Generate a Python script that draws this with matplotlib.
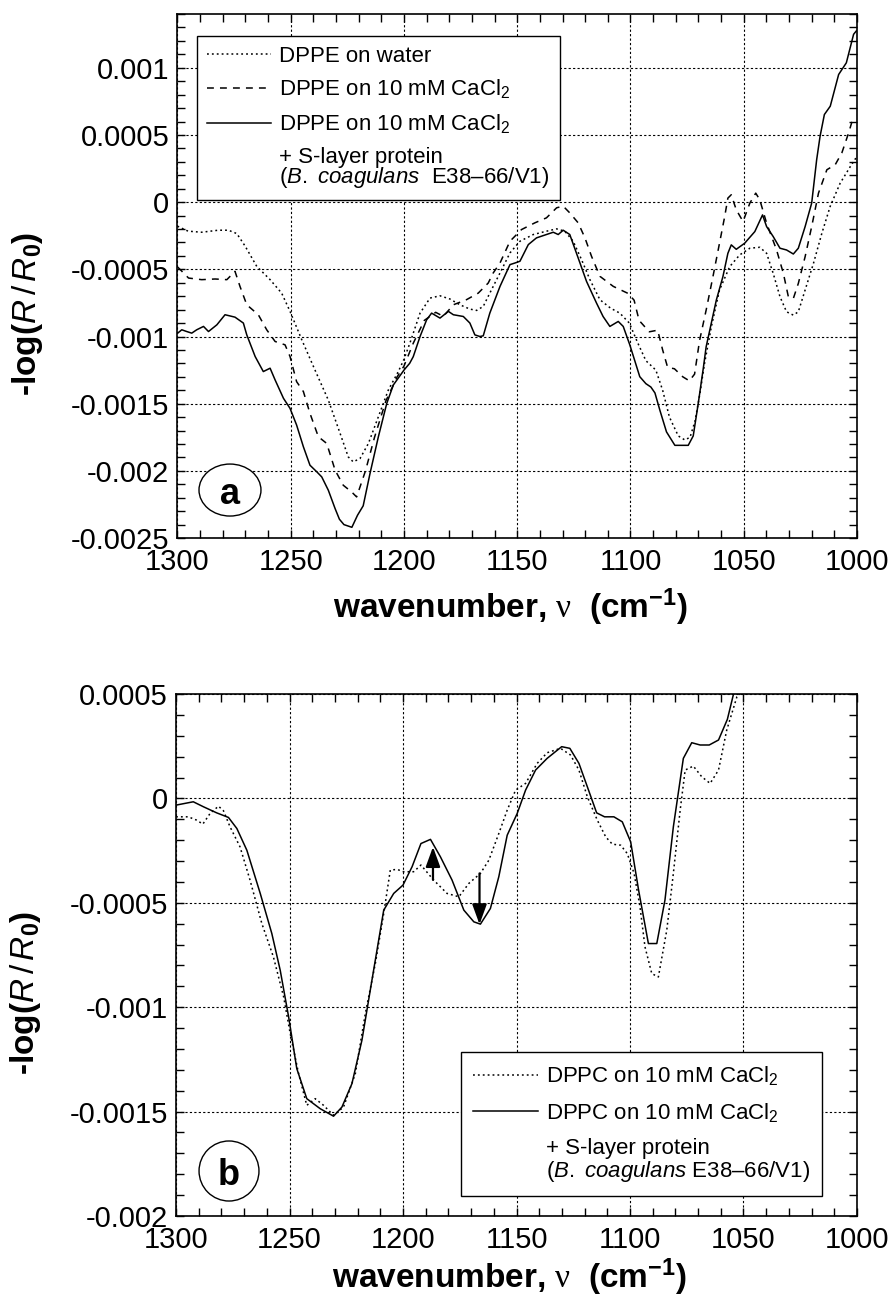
import matplotlib
matplotlib.use("Agg")
import matplotlib.pyplot as plt
from matplotlib.lines import Line2D
from matplotlib.patches import Ellipse
from matplotlib.ticker import MultipleLocator, FuncFormatter

plt.rcParams['font.family'] = ['Liberation Sans', 'DejaVu Sans']
plt.rcParams['mathtext.fontset'] = 'custom'
plt.rcParams['mathtext.rm'] = 'Liberation Sans'
plt.rcParams['mathtext.it'] = 'Liberation Sans:italic'
plt.rcParams['mathtext.bf'] = 'Liberation Sans:bold'
plt.rcParams['mathtext.sf'] = 'Liberation Serif'
plt.rcParams['axes.unicode_minus'] = False

# ---- panel a: DPPE ----
wn_water = [1300, 1295.3, 1289.3, 1282, 1277.5, 1273.8, 1270.1, 1265, 1259.1, 1254, 1250.3,
            1245.1, 1239.3, 1233.4, 1228.2, 1224.6, 1222.4, 1219.4, 1215.7, 1211.3, 1206.9,
            1202.5, 1200, 1197.4, 1192.9, 1188.5, 1184.1, 1179.7, 1175.3, 1170.9, 1167.9,
            1165, 1162.1, 1157.6, 1153.2, 1148.8, 1142.9, 1137, 1132.6, 1129, 1125.3, 1121.6,
            1117.9, 1113.5, 1108.8, 1104.7, 1100.5, 1097, 1093.2, 1088.8, 1085.8, 1082.8,
            1078.9, 1076, 1073.7, 1071.5, 1069.3, 1067.3, 1064.3, 1060.7, 1056.2, 1051.8,
            1047.3, 1042.9, 1039.9, 1037, 1034, 1031.1, 1028.1, 1025.9, 1022.9, 1019.2,
            1015.5, 1011.8, 1007.4, 1002.9, 1000]
abs_water = [-0.000179, -0.000216, -0.000224, -0.000209, -0.000209, -0.000234, -0.000328,
             -0.000478, -0.000577, -0.000677, -0.000813, -0.001025, -0.001249, -0.001473,
             -0.001721, -0.001896, -0.001933, -0.001908, -0.001796, -0.001597, -0.001398,
             -0.001261, -0.00117, -0.00105, -0.000826, -0.000714, -0.000697, -0.000721,
             -0.000764, -0.000796, -0.000806, -0.000776, -0.000677, -0.000527, -0.000378,
             -0.000291, -0.000241, -0.000216, -0.000199, -0.000216, -0.000291, -0.000428,
             -0.000577, -0.000726, -0.000789, -0.000826, -0.0009, -0.00104, -0.00118,
             -0.00125, -0.0014, -0.0016, -0.00174, -0.00177, -0.00175, -0.00163, -0.00142,
             -0.0012, -0.000928, -0.000654, -0.00048, -0.000393, -0.000343, -0.000336,
             -0.000381, -0.00053, -0.000704, -0.000816, -0.000841, -0.000816, -0.000654,
             -0.000455, -0.000231, -0.00003, 0.000142, 0.000266, 0.000341]

wn_ca = [1299.9, 1295.1, 1289.3, 1283.4, 1278.2, 1274.6, 1272.4, 1269.4, 1264.3, 1260.6,
         1256.9, 1252.5, 1250.3, 1247.4, 1244.4, 1241.5, 1237.8, 1234.1, 1230.4, 1226.8,
         1223.1, 1220.9, 1217, 1213, 1208, 1203, 1200, 1195.9, 1191, 1186, 1182.6, 1178.2,
         1172.4, 1167.2, 1162.8, 1160.6, 1157.6, 1153.2, 1148.1, 1142.2, 1137.1, 1132.6,
         1129.7, 1126.8, 1123.1, 1120.1, 1117.2, 1113.5, 1107.6, 1101, 1098.4, 1096.2,
         1091.7, 1088, 1085.8, 1083.6, 1080.6, 1076.9, 1074, 1071.7, 1069.5, 1066.6,
         1063.6, 1060.7, 1058.4, 1057, 1055.5, 1053.3, 1050.3, 1047.3, 1044.7, 1042.9,
         1039.9, 1035.5, 1032.5, 1030.3, 1028.1, 1025.9, 1022.9, 1020, 1017, 1013.3,
         1009.6, 1006.7, 1003.7, 1001.5]
abs_ca = [-0.000483, -0.000565, -0.000577, -0.000572, -0.000577, -0.000515, -0.000627,
          -0.000764, -0.000838, -0.00095, -0.001037, -0.001062, -0.001149, -0.001336,
          -0.00141, -0.001572, -0.001746, -0.001796, -0.001995, -0.002107, -0.002157,
          -0.002194, -0.0020, -0.00175, -0.00148, -0.0013, -0.00122, -0.00105, -0.00088,
          -0.00082, -0.00085, -0.000764, -0.000726, -0.000677, -0.000602, -0.000527,
          -0.000453, -0.000291, -0.000204, -0.000154, -0.000117, -0.000042, -0.00003,
          -0.00008, -0.000154, -0.000266, -0.000403, -0.000552, -0.000627, -0.00068,
          -0.00073, -0.00088, -0.000965, -0.000953, -0.0011, -0.00123, -0.00124, -0.0013,
          -0.00133, -0.00128, -0.00103, -0.000804, -0.000555, -0.000306, -0.000107,
          0.00003, 0.000055, -0.000057, -0.000144, -0.000007, 0.000067, 0.000017,
          -0.000157, -0.000356, -0.00053, -0.000704, -0.000717, -0.000605, -0.000406,
          -0.000182, 0.000067, 0.000241, 0.000279, 0.000366, 0.000515, 0.000639]

wn_prot = [1299.9, 1298.1, 1295.9, 1293.7, 1291.5, 1288.5, 1286.3, 1282.6, 1279, 1274.6,
           1270.9, 1269.4, 1265.7, 1262.1, 1259.1, 1256.9, 1253.2, 1250.3, 1247.4, 1244.4,
           1241.5, 1238.5, 1236.3, 1233.4, 1230.4, 1228.5, 1226.5, 1223, 1220.5, 1218,
           1215, 1211.3, 1207.6, 1204.7, 1200, 1197.5, 1195.9, 1192.9, 1190, 1187.8, 1184.1,
           1180.4, 1178.2, 1173.8, 1170.9, 1168.7, 1166.5, 1165, 1162.1, 1157.6, 1153.2,
           1151, 1148.8, 1145.1, 1141.5, 1137.1, 1134.1, 1131.9, 1129.7, 1126.8, 1123.1,
           1119.4, 1115, 1112.1, 1109.1, 1105.4, 1103.2, 1100.3, 1095.9, 1093.2, 1091,
           1089.2, 1087, 1084.1, 1080.4, 1074.5, 1072.3, 1070.1, 1067.8, 1066.6, 1062.1,
           1059.2, 1057, 1055.5, 1053.3, 1049.6, 1045.1, 1041.7, 1039.9, 1037, 1034,
           1031.1, 1028.1, 1025.9, 1022.9, 1020, 1017.8, 1016.3, 1014.4, 1011.8, 1008.1,
           1004.7, 1001.5, 1000.3]
abs_prot = [-0.000975, -0.00095, -0.000963, -0.000975, -0.00095, -0.000925, -0.000963,
            -0.000913, -0.000838, -0.000856, -0.0009, -0.000988, -0.001149, -0.001261,
            -0.001236, -0.001323, -0.00146, -0.001535, -0.001659, -0.001821, -0.001958,
            -0.002007, -0.002045, -0.002144, -0.002281, -0.00236, -0.0024, -0.00242,
            -0.00233, -0.00226, -0.00202, -0.001746, -0.001498, -0.001361, -0.00125,
            -0.0012, -0.00115, -0.001, -0.000876, -0.000826, -0.000863, -0.000813,
            -0.000838, -0.000851, -0.0009, -0.000988, -0.001, -0.000995, -0.000826,
            -0.000627, -0.000465, -0.000453, -0.00044, -0.000316, -0.000266, -0.000241,
            -0.000224, -0.000241, -0.000209, -0.000241, -0.000415, -0.00059, -0.000751,
            -0.000851, -0.000925, -0.000888, -0.000925, -0.001062, -0.001299, -0.001351,
            -0.001376, -0.00142, -0.00155, -0.00171, -0.00181, -0.00181, -0.00174,
            -0.0015, -0.00123, -0.001077, -0.000729, -0.000555, -0.000381, -0.000318,
            -0.000351, -0.000306, -0.000219, -0.000095, -0.000182, -0.000256, -0.000343,
            -0.000356, -0.000386, -0.000343, -0.000182, -0.000007, 0.000316, 0.00049,
            0.000652, 0.000714, 0.00095, 0.001037, 0.001249, 0.001274]

# ---- panel b: DPPC ----
wn_dppc = [1300, 1294.6, 1290.9, 1288.2, 1285, 1281.3, 1279.1, 1276.2, 1271.8, 1267.4,
           1262.2, 1257.1, 1252.6, 1249.7, 1246, 1242.4, 1238.7, 1235, 1230.6, 1226.2,
           1221, 1216.6, 1212.2, 1208.5, 1205.6, 1202.6, 1199.7, 1195.3, 1192.1, 1186.5,
           1180.6, 1175.4, 1171, 1165.9, 1162.2, 1157.8, 1154.1, 1150.4, 1146, 1140.9,
           1136.5, 1130.6, 1126.2, 1122.5, 1118.8, 1114.4, 1110.7, 1107.8, 1104.1, 1101.2,
           1098.2, 1095.6, 1093.4, 1090.4, 1087.5, 1083.8, 1080.9, 1077.9, 1075.7, 1072.1,
           1068.4, 1064.7, 1061, 1057.4, 1052.9, 1051.5]
abs_dppc = [-0.000088, -0.000088, -0.000104, -0.000123, -0.000072, -0.000037, -0.000059,
            -0.000136, -0.000232, -0.000391, -0.000599, -0.000759, -0.00095, -0.001126,
            -0.001318, -0.00147, -0.001438, -0.00147, -0.001518, -0.001478, -0.001318,
            -0.00103, -0.000791, -0.000551, -0.000343, -0.00034, -0.000351, -0.000351,
            -0.000319, -0.000391, -0.000455, -0.000471, -0.000407, -0.000359, -0.000296,
            -0.000168, -0.000056, 0.00004, 0.000072, 0.000168, 0.000219, 0.00024, 0.000208,
            0.000136, 0.000008, -0.000104, -0.000184, -0.000219, -0.000224, -0.000264,
            -0.000359, -0.000519, -0.000711, -0.000839, -0.000855, -0.000631, -0.000359,
            -0.000056, 0.000136, 0.000155, 0.000104, 0.000072, 0.000136, 0.000327,
            0.000487, 0.0005]

wn_dppc_prot = [1300, 1292.4, 1287.9, 1282.1, 1276.9, 1273.2, 1268.8, 1262.9, 1257.8,
                1254.1, 1250.4, 1246.8, 1242.4, 1236.5, 1230.6, 1226.9, 1222.5, 1218.1,
                1213.7, 1208.5, 1204.1, 1200, 1196, 1192.1, 1187.9, 1183.5, 1178.4, 1173.2,
                1168.8, 1165.9, 1161.5, 1157.8, 1154.1, 1149.7, 1146, 1141.6, 1136.5,
                1130.1, 1126.5, 1122.5, 1118.8, 1114.7, 1111.2, 1107.1, 1103.4, 1099.7,
                1096.2, 1091.9, 1088.2, 1084.6, 1080.9, 1076.5, 1072.8, 1069.1, 1065.1,
                1061, 1057.1, 1054.4]
abs_dppc_prot = [-0.000032, -0.000016, -0.00004, -0.000069, -0.000091, -0.000144, -0.000248,
                 -0.000455, -0.000647, -0.000823, -0.001046, -0.001294, -0.001438,
                 -0.001486, -0.001522, -0.001478, -0.001366, -0.001158, -0.000871,
                 -0.000535, -0.000455, -0.000415, -0.000327, -0.000216, -0.000196,
                 -0.00028, -0.000391, -0.000535, -0.000591, -0.000602, -0.000527,
                 -0.000375, -0.000176, -0.000072, 0.00004, 0.000136, 0.000192, 0.000248,
                 0.00024, 0.000168, 0.000056, -0.000069, -0.000088, -0.000088, -0.000112,
                 -0.000208, -0.00044, -0.000695, -0.000695, -0.000487, -0.000136, 0.000192,
                 0.000267, 0.000256, 0.000256, 0.00028, 0.000379, 0.0005]

# arrows in panel b: (wavenumber, start, end)
arrow_up = (1186.8, -0.00039, -0.000232)
arrow_down = (1166.3, -0.000359, -0.000603)

DOT = (0, (1.2, 2.0))
DASH = (0, (4.5, 4.0))
LW = 1.1


def ytick_fmt(v, pos):
    return f"{round(v, 7) + 0:g}"


def style_axes(ax, ylim, xlabel_y):
    ax.set_xlim(1300, 1000)
    ax.set_ylim(*ylim)
    ax.xaxis.set_major_locator(MultipleLocator(50))
    ax.xaxis.set_minor_locator(MultipleLocator(10))
    ax.yaxis.set_major_locator(MultipleLocator(0.0005))
    ax.yaxis.set_minor_locator(MultipleLocator(0.0001))
    ax.yaxis.set_major_formatter(FuncFormatter(ytick_fmt))
    ax.tick_params(which='both', direction='in', top=True, right=True,
                   length=6, width=1, colors='black')
    ax.tick_params(axis='x', labelsize=21, pad=7)
    ax.tick_params(axis='y', labelsize=21, pad=6)
    ax.grid(True, which='major', color='black', linestyle=(0, (2, 2)), linewidth=0.8)
    for s in ax.spines.values():
        s.set_linewidth(1.2)
    ax.set_xlabel('wavenumber, $\\mathsf{\\nu}$  (cm$^{\\mathbf{-1}}$)',
                  fontsize=24, fontweight='bold')
    ax.set_ylabel('-log($R\\,/\\,R_\\mathbf{0}$)', fontsize=24, fontweight='bold')
    ax.xaxis.set_label_coords(0.49, xlabel_y)
    ax.yaxis.set_label_coords(-0.195, 0.427)


def panel_label(ax, text, xy, w, h):
    ax.add_patch(Ellipse(xy, w, h, transform=ax.transAxes, facecolor='white',
                         edgecolor='black', linewidth=1, zorder=4))
    ax.text(xy[0], xy[1], text, transform=ax.transAxes, ha='center',
            va='center_baseline', fontsize=26, fontweight='bold', zorder=5)


fig = plt.figure(figsize=(8.94, 12.99), dpi=100)

# ---- top panel ----
ax1 = fig.add_axes([0.1985, 0.5858, 0.7601, 0.4034])
ax1.plot(wn_water, abs_water, color='black', lw=LW, linestyle=DOT)
ax1.plot(wn_ca, abs_ca, color='black', lw=LW, linestyle=DASH)
ax1.plot(wn_prot, abs_prot, color='black', lw=LW, linestyle='-')
style_axes(ax1, (-0.0025, 0.0014), -0.092)

blank = Line2D([], [], color='none')
h1 = [Line2D([], [], color='black', lw=LW, linestyle=DOT),
      Line2D([], [], color='black', lw=LW, linestyle=DASH),
      Line2D([], [], color='black', lw=LW, linestyle='-'),
      blank]
l1 = ['DPPE on water',
      'DPPE on 10 mM CaCl$_2$',
      'DPPE on 10 mM CaCl$_2$',
      '+ S-layer protein\n($B.\\ coagulans$  E38\u201366/V1)']
leg1 = ax1.legend(h1, l1, loc='upper left', bbox_to_anchor=(0.0287, 0.9586),
                  borderaxespad=0, fontsize=16, handlelength=2.9, handletextpad=0.36,
                  labelspacing=0.5, borderpad=0.45, fancybox=False, framealpha=1,
                  edgecolor='black')
leg1.get_frame().set_linewidth(1)
leg1.get_texts()[3].set_linespacing(0.8)
panel_label(ax1, 'a', (0.0773, 0.0916), 0.0912, 0.0992)

# ---- bottom panel ----
ax2 = fig.add_axes([0.1969, 0.0639, 0.7617, 0.4018])
ax2.plot(wn_dppc, abs_dppc, color='black', lw=LW, linestyle=DOT)
ax2.plot(wn_dppc_prot, abs_dppc_prot, color='black', lw=LW, linestyle='-')
style_axes(ax2, (-0.002, 0.0005), -0.078)

for wn, y0, y1 in (arrow_up, arrow_down):
    ax2.annotate('', xy=(wn, y1), xytext=(wn, y0),
                 arrowprops=dict(arrowstyle='-|>,head_length=0.55,head_width=0.2',
                                 color='black', lw=1.6, mutation_scale=22,
                                 shrinkA=0, shrinkB=0))

h2 = [Line2D([], [], color='black', lw=LW, linestyle=DOT),
      Line2D([], [], color='black', lw=LW, linestyle='-'),
      blank]
l2 = ['DPPC on 10 mM CaCl$_2$',
      'DPPC on 10 mM CaCl$_2$',
      '+ S-layer protein\n($B.\\ coagulans$ E38\u201366/V1)']
leg2 = ax2.legend(h2, l2, loc='upper left', bbox_to_anchor=(0.4185, 0.314),
                  borderaxespad=0, fontsize=16, handlelength=2.9, handletextpad=0.36,
                  labelspacing=0.6, borderpad=0.55, fancybox=False, framealpha=1,
                  edgecolor='black')
leg2.get_frame().set_linewidth(1)
leg2.get_texts()[2].set_linespacing(1.0)
panel_label(ax2, 'b', (0.0778, 0.0862), 0.088, 0.115)

fig.savefig('out.png', dpi=100)
